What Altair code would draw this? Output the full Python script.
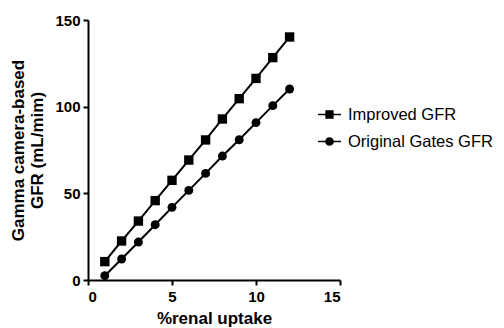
import altair as alt
import pandas as pd

uptake = [1, 2, 3, 4, 5, 6, 7, 8, 9, 10, 11, 12]
improved_gfr = [10.6, 22.5, 34.0, 45.8, 57.5, 69.2, 80.8, 92.9, 104.6, 116.3, 128.3, 140.2]
original_gfr = [2.5, 12.1, 21.9, 31.9, 41.9, 51.7, 61.5, 71.5, 80.9, 90.8, 100.6, 110.2]
series_names = ["Improved GFR", "Original Gates GFR"]
x_ticks = [0, 5, 10, 15]
y_ticks = [0, 50, 100, 150]

rows = []
for xv, yv in zip(uptake, improved_gfr):
    rows.append({"x": xv, "y": yv, "series": series_names[0]})
for xv, yv in zip(uptake, original_gfr):
    rows.append({"x": xv, "y": yv, "series": series_names[1]})
df = pd.DataFrame(rows)

FONT = "Liberation Sans"

x_enc = alt.X("x:Q", scale=alt.Scale(domain=[0, 15], nice=False),
              axis=alt.Axis(values=x_ticks, title="%renal uptake", format="d"))
y_enc = alt.Y("y:Q", scale=alt.Scale(domain=[0, 150], nice=False),
              axis=alt.Axis(values=y_ticks, title=["Gamma camera-based", "GFR (mL/mim)"], format="d"))

base = alt.Chart(df)

lines = base.mark_line(color="black", strokeWidth=2).encode(
    x=x_enc, y=y_enc, detail="series:N"
)

points = base.mark_point(filled=True, color="black", opacity=1).encode(
    x=x_enc, y=y_enc,
    shape=alt.Shape("series:N", scale=alt.Scale(domain=series_names, range=["square", "circle"]), legend=None),
    size=alt.Size("series:N", scale=alt.Scale(domain=series_names, range=[88, 80]), legend=None),
)

# legend glyphs: a thin bar (line) plus the marker, all drawn clockwise so they fill together
sq_path = "M-1,-0.07H1V0.07H-1ZM-0.36,-0.36H0.36V0.36H-0.36Z"
ci_path = "M-1,-0.07H1V0.07H-1ZM-0.38,0A0.38,0.38,0,1,1,0.38,0A0.38,0.38,0,1,1,-0.38,0Z"

legend_layer = base.transform_filter("datum.y < -1000").mark_point(
    filled=True, color="black", opacity=1
).encode(
    x=x_enc, y=y_enc,
    shape=alt.Shape("series:N",
                    scale=alt.Scale(domain=series_names, range=[sq_path, ci_path]),
                    legend=alt.Legend(title=None, orient="none", legendX=230, legendY=83,
                                      symbolSize=529, symbolFillColor="black",
                                      symbolOpacity=1, symbolStrokeWidth=0,
                                      labelFont=FONT, labelFontSize=16.5, labelColor="black",
                                      labelOffset=7, labelLimit=0, rowPadding=7, padding=0)),
)

chart = alt.layer(lines, points, legend_layer).resolve_scale(
    shape="independent", size="independent"
).properties(
    width=252, height=260,
    autosize=alt.AutoSizeParams(type="none"),
    padding={"left": 80, "top": 12, "right": 156, "bottom": 48},
).configure_view(stroke=None).configure_axis(
    grid=False,
    domainColor="black", domainWidth=2,
    tickColor="black", tickWidth=2, tickSize=5,
    labelFont=FONT, labelFontSize=15, labelFontWeight="bold", labelColor="black",
    titleFont=FONT, titleFontSize=17, titleFontWeight="bold", titleColor="black",
).configure_axisY(labelPadding=3, titlePadding=8).configure_axisX(labelPadding=4, titlePadding=6)

chart.save("out.html", embed_options={"renderer": "svg", "actions": False})
